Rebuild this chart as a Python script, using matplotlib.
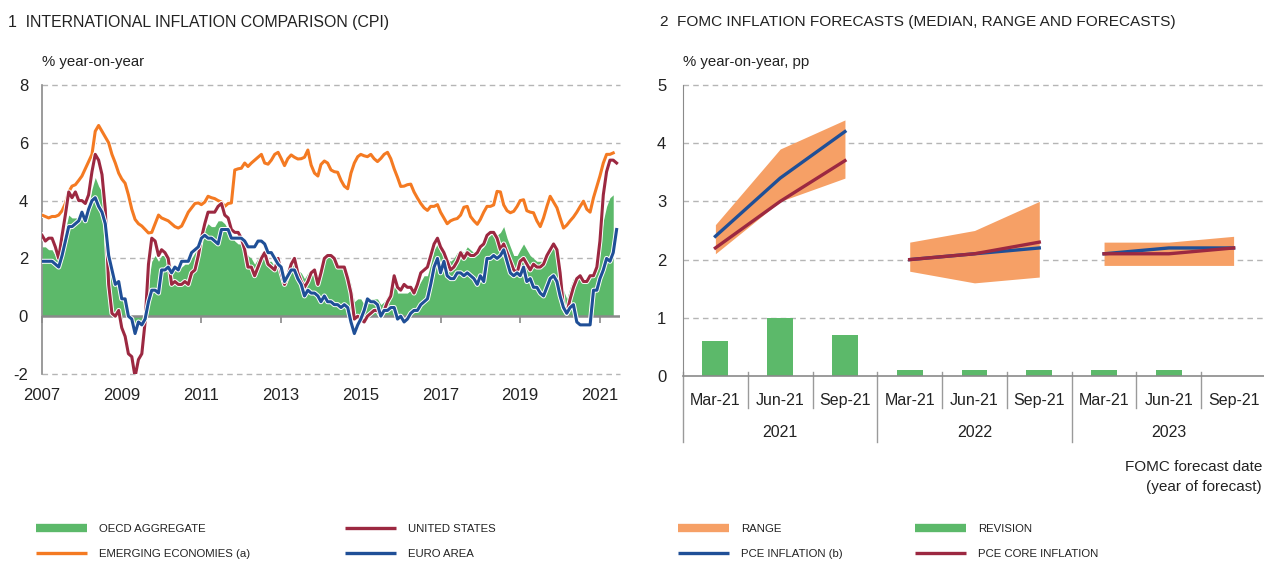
import numpy as np
import pandas as pd
import matplotlib
matplotlib.use("Agg")
import matplotlib.pyplot as plt
import matplotlib.patheffects as pe
import matplotlib.dates as mdates
from matplotlib.lines import Line2D

plt.rcParams['font.family'] = ['Liberation Sans', 'DejaVu Sans']

# ---- chart 1: CPI, % year-on-year, monthly from Mar 2007 ----
oecd = [2.4, 2.4, 2.3, 2.3, 2.1, 1.9, 2.3, 3.0, 3.5, 3.4,
        3.4, 3.4, 3.6, 3.5, 3.8, 4.4, 4.8, 4.5, 4.3, 3.7, 2.3, 1.5,
        1.2, 1.2, 0.6, 0.5, 0.1, -0.1, -0.5, -0.3, -0.3, 0.2, 1.2, 1.9,
        2.1, 1.9, 2.1, 2.1, 2.0, 1.7, 1.7, 1.6, 1.7, 1.8, 1.8, 2.0,
        2.2, 2.4, 2.7, 3.0, 3.2, 3.1, 3.1, 3.3, 3.3, 3.2, 3.0, 2.8,
        2.6, 2.5, 2.5, 2.4, 2.1, 2.0, 1.8, 2.0, 2.2, 2.2, 1.9, 1.9,
        1.7, 1.8, 1.6, 1.3, 1.5, 1.8, 1.9, 1.6, 1.5, 1.3, 1.5, 1.6,
        1.5, 1.4, 1.6, 2.0, 2.1, 2.1, 1.9, 1.8, 1.7, 1.6, 1.5, 1.1,
        0.5, 0.6, 0.6, 0.4, 0.6, 0.6, 0.6, 0.6, 0.4, 0.5, 0.7, 0.9,
        1.2, 0.8, 0.8, 0.8, 0.8, 0.9, 1.0, 1.0, 1.2, 1.4, 1.4, 1.8,
        2.3, 2.5, 2.2, 2.3, 2.0, 1.9, 2.0, 2.2, 2.3, 2.2, 2.4, 2.3,
        2.2, 2.2, 2.3, 2.4, 2.7, 2.8, 2.9, 2.8, 2.9, 3.1, 2.7, 2.4,
        2.1, 2.1, 2.3, 2.5, 2.3, 2.1, 2.0, 1.9, 1.9, 1.9, 2.1, 2.3,
        2.5, 2.2, 1.7, 0.9, 0.6, 1.0, 1.3, 1.3, 1.4, 1.2, 1.2, 1.3,
        1.6, 1.8, 2.5, 3.3, 3.8, 4.1, 4.2]

emerging = [3.5, 3.45, 3.4, 3.45, 3.45, 3.5, 3.65, 3.9, 4.3, 4.5,
            4.55, 4.7, 4.85, 5.1, 5.35, 5.6, 6.4, 6.6, 6.4, 6.2, 6.0, 5.6,
            5.3, 4.95, 4.75, 4.6, 4.2, 3.7, 3.35, 3.2, 3.12, 3.0, 2.88, 2.9,
            3.2, 3.5, 3.4, 3.35, 3.3, 3.2, 3.1, 3.05, 3.12, 3.35, 3.6, 3.75,
            3.9, 3.92, 3.86, 3.95, 4.15, 4.1, 4.07, 4.0, 3.95, 3.8, 3.9, 3.92,
            5.06, 5.1, 5.12, 5.3, 5.18, 5.3, 5.4, 5.5, 5.6, 5.3, 5.26, 5.4,
            5.6, 5.67, 5.46, 5.21, 5.45, 5.58, 5.5, 5.44, 5.45, 5.5, 5.75, 5.23,
            4.95, 4.85, 5.25, 5.37, 5.3, 5.06, 5.0, 4.98, 4.7, 4.5, 4.41, 4.95,
            5.3, 5.52, 5.6, 5.55, 5.52, 5.6, 5.45, 5.35, 5.46, 5.6, 5.67, 5.45,
            5.1, 4.8, 4.49, 4.5, 4.55, 4.57, 4.3, 4.09, 3.9, 3.75, 3.66, 3.8,
            3.8, 3.86, 3.6, 3.4, 3.2, 3.3, 3.35, 3.38, 3.5, 3.77, 3.8, 3.45,
            3.3, 3.18, 3.35, 3.6, 3.8, 3.8, 3.85, 4.32, 4.3, 3.85, 3.65, 3.58,
            3.63, 3.8, 4.0, 4.03, 3.65, 3.6, 3.58, 3.3, 3.1, 3.4, 3.8, 4.15,
            3.95, 3.75, 3.4, 3.05, 3.15, 3.3, 3.43, 3.6, 3.8, 3.98, 3.7, 3.6,
            4.1, 4.5, 4.85, 5.3, 5.6, 5.6, 5.65]

usa = [2.8, 2.6, 2.7, 2.7, 2.4, 2.0, 2.8, 3.5, 4.3, 4.1,
       4.3, 4.0, 4.0, 3.9, 4.2, 5.0, 5.6, 5.4, 4.9, 3.7, 1.1, 0.1,
       0.0, 0.2, -0.4, -0.7, -1.3, -1.4, -2.1, -1.5, -1.3, -0.2, 1.8, 2.7,
       2.6, 2.1, 2.3, 2.2, 2.0, 1.1, 1.2, 1.1, 1.1, 1.2, 1.1, 1.5,
       1.6, 2.1, 2.7, 3.2, 3.6, 3.6, 3.6, 3.8, 3.9, 3.5, 3.4, 3.0,
       2.9, 2.9, 2.7, 2.3, 1.7, 1.7, 1.4, 1.7, 2.0, 2.2, 1.8, 1.7,
       1.6, 2.0, 1.5, 1.1, 1.4, 1.8, 2.0, 1.5, 1.2, 1.0, 1.2, 1.5,
       1.6, 1.1, 1.5, 2.0, 2.1, 2.1, 2.0, 1.7, 1.7, 1.7, 1.3, 0.8,
       -0.1, 0.0, -0.1, -0.2, 0.0, 0.1, 0.2, 0.2, 0.0, 0.2, 0.5, 0.7,
       1.4, 1.0, 0.9, 1.1, 1.0, 1.0, 0.8, 1.1, 1.5, 1.6, 1.7, 2.1,
       2.5, 2.7, 2.4, 2.2, 1.9, 1.6, 1.7, 1.9, 2.2, 2.0, 2.2, 2.1,
       2.1, 2.2, 2.4, 2.5, 2.8, 2.9, 2.9, 2.7, 2.3, 2.5, 2.2, 1.9,
       1.6, 1.5, 1.9, 2.0, 1.8, 1.6, 1.8, 1.7, 1.7, 1.8, 2.1, 2.3,
       2.5, 2.3, 1.5, 0.3, 0.1, 0.6, 1.0, 1.3, 1.4, 1.2, 1.2, 1.4,
       1.4, 1.7, 2.6, 4.2, 5.0, 5.4, 5.4, 5.3]

euro = [1.9, 1.9, 1.9, 1.9, 1.8, 1.7, 2.1, 2.6, 3.1, 3.1,
        3.2, 3.3, 3.6, 3.3, 3.7, 4.0, 4.1, 3.8, 3.6, 3.2, 2.1, 1.6,
        1.1, 1.2, 0.6, 0.6, 0.0, -0.1, -0.6, -0.2, -0.3, -0.1, 0.5, 0.9,
        0.9, 0.8, 1.6, 1.6, 1.7, 1.5, 1.7, 1.6, 1.9, 1.9, 1.9, 2.2,
        2.3, 2.4, 2.7, 2.8, 2.7, 2.7, 2.6, 2.5, 3.0, 3.0, 3.0, 2.7,
        2.7, 2.7, 2.7, 2.6, 2.4, 2.4, 2.4, 2.6, 2.6, 2.5, 2.2, 2.2,
        2.0, 1.8, 1.7, 1.2, 1.4, 1.6, 1.6, 1.3, 1.1, 0.7, 0.9, 0.8,
        0.8, 0.7, 0.5, 0.7, 0.5, 0.5, 0.4, 0.4, 0.3, 0.4, 0.3, -0.2,
        -0.6, -0.3, -0.1, 0.2, 0.6, 0.5, 0.5, 0.4, 0.0, 0.2, 0.2, 0.3,
        0.3, -0.1, 0.0, -0.2, -0.1, 0.1, 0.2, 0.2, 0.4, 0.5, 0.6, 1.1,
        1.7, 2.0, 1.5, 1.9, 1.4, 1.3, 1.3, 1.5, 1.5, 1.4, 1.5, 1.4,
        1.3, 1.1, 1.4, 1.2, 2.0, 2.0, 2.1, 2.0, 2.1, 2.3, 1.9, 1.5,
        1.4, 1.5, 1.4, 1.7, 1.2, 1.3, 1.0, 1.0, 0.8, 0.7, 1.0, 1.3,
        1.4, 1.2, 0.7, 0.3, 0.1, 0.3, 0.4, -0.2, -0.3, -0.3, -0.3, -0.3,
        0.9, 0.9, 1.3, 1.6, 2.0, 1.9, 2.2, 3.0]

start = "2007-03-01"
year_labels = ["2007", "2009", "2011", "2013", "2015", "2017", "2019", "2021"]

# ---- chart 2: FOMC forecasts ----
fomc_dates = ["Mar-21", "Jun-21", "Sep-21"] * 3
fomc_years = ["2021", "2022", "2023"]
range_low = [2.1, 3.0, 3.4, 1.8, 1.6, 1.7, 1.9, 1.9, 1.9]
range_high = [2.6, 3.9, 4.4, 2.3, 2.5, 3.0, 2.3, 2.3, 2.4]
pce = [2.4, 3.4, 4.2, 2.0, 2.1, 2.2, 2.1, 2.2, 2.2]
pce_core = [2.2, 3.0, 3.7, 2.0, 2.1, 2.3, 2.1, 2.1, 2.2]
revision = [0.6, 1.0, 0.7, 0.1, 0.1, 0.1, 0.1, 0.1, 0.0]

GREEN = "#5cb96a"
ORANGE = "#f47a22"
RED = "#9c2841"
BLUE = "#1f4f97"
RANGE_C = "#f6a066"
GRAY = "#8a8a8a"
GRID = "#b5b5b5"
TXT = "#222222"

W, H = 1264, 561
fig = plt.figure(figsize=(W / 100, H / 100), dpi=100)


def fx(px):
    return px / W


def fy(py):
    return 1 - py / H


halo = [pe.Stroke(linewidth=3.6, foreground="white"), pe.Normal()]

# ---------------- left chart ----------------
ax1 = fig.add_axes([fx(42), fy(374), fx(620 - 42), (374 - 85) / H])
d_long = pd.date_range(start, periods=len(usa), freq="MS")
d_short = pd.date_range(start, periods=len(oecd), freq="MS")

ax1.fill_between(d_short, 0, oecd, color=GREEN, lw=0, zorder=2)
ax1.axhline(0, color=GRAY, lw=1.8, zorder=2.5)
ax1.plot(d_short, emerging, color=ORANGE, lw=2.2, zorder=3, path_effects=halo)
ax1.plot(d_long, usa, color=RED, lw=2.2, zorder=4, path_effects=halo)
ax1.plot(d_long, euro, color=BLUE, lw=2.2, zorder=5, path_effects=halo)

ax1.set_xlim(d_long[0], pd.Timestamp("2021-09-01"))
ax1.set_ylim(-2, 8)
ax1.set_yticks([-2, 0, 2, 4, 6, 8])
ax1.set_yticklabels(["-2", "0", "2", "4", "6", "8"])
for v in [-2, 2, 4, 6, 8]:
    ax1.axhline(v, color=GRID, lw=1, ls=(0, (4, 3)), zorder=1, clip_on=False)
for s in ["top", "right", "bottom"]:
    ax1.spines[s].set_visible(False)
ax1.spines["left"].set_color(GRAY)
ax1.spines["left"].set_linewidth(1.2)
ax1.tick_params(axis="y", length=0, labelsize=12, colors=TXT, pad=10)

tick_dates = [pd.Timestamp(y + "-03-01") for y in year_labels]
ax1.set_xticks(tick_dates)
ax1.set_xticklabels(year_labels)
ax1.tick_params(axis="x", length=0, labelsize=12, colors=TXT, pad=10)

sec = ax1.secondary_xaxis(0.2)
sec.set_xticks(mdates.date2num(tick_dates))
sec.tick_params(axis="x", length=5, width=1.2, color=GRAY, direction="out",
                labelbottom=False)
sec.spines["bottom"].set_visible(False)

fig.text(fx(8), fy(22), "1  INTERNATIONAL INFLATION COMPARISON (CPI)",
         fontsize=11.4, color=TXT, va="center")
fig.text(fx(42), fy(62), "% year-on-year", fontsize=10.8, color=TXT, va="center")

# ---------------- right chart ----------------
ax2 = fig.add_axes([fx(683), fy(376), fx(1266 - 683), (376 - 85) / H])
x = np.arange(len(fomc_dates))
ax2.bar(x, revision, width=0.4, color=GREEN, zorder=2)
for g in range(len(fomc_years)):
    sl = slice(3 * g, 3 * g + 3)
    ax2.fill_between(x[sl], range_low[sl], range_high[sl], color=RANGE_C, lw=0, zorder=2)
    ax2.plot(x[sl], pce[sl], color=BLUE, lw=2.4, zorder=3)
    ax2.plot(x[sl], pce_core[sl], color=RED, lw=2.4, zorder=4)

ax2.set_xlim(-0.5, len(fomc_dates) - 0.5)
ax2.set_ylim(0, 5)
ax2.set_yticks(range(0, 6))
for v in range(1, 6):
    ax2.axhline(v, color=GRID, lw=1, ls=(0, (4, 3)), zorder=1, clip_on=False)
for s in ["top", "right"]:
    ax2.spines[s].set_visible(False)
ax2.spines["left"].set_color(GRAY)
ax2.spines["bottom"].set_color(GRAY)
ax2.spines["bottom"].set_linewidth(1.2)
ax2.tick_params(axis="y", length=0, labelsize=12, colors=TXT, pad=12)
ax2.set_xticks(x)
ax2.set_xticklabels(fomc_dates)
ax2.tick_params(axis="x", length=0, labelsize=11.5, colors=TXT, pad=12)

tr = ax2.get_xaxis_transform()
for i in range(len(fomc_dates) + 1):
    low = -0.227 if i % 3 == 0 else -0.11
    ax2.plot([i - 0.5, i - 0.5], [0.015, low], transform=tr, clip_on=False,
             color="#9a9a9a", lw=1)
for g, yl in enumerate(fomc_years):
    ax2.text(3 * g + 1, -0.193, yl, transform=tr, ha="center", va="center",
             fontsize=11.5, color=TXT)

fig.text(fx(660), fy(22), "2  FOMC INFLATION FORECASTS (MEDIAN, RANGE AND FORECASTS)",
         fontsize=11.1, color=TXT, va="center")
fig.text(fx(683), fy(62), "% year-on-year, pp", fontsize=10.8, color=TXT, va="center")
fig.text(fx(1262), fy(467), "FOMC forecast date", fontsize=11, color=TXT,
         ha="right", va="center")
fig.text(fx(1262), fy(487), "(year of forecast)", fontsize=11, color=TXT,
         ha="right", va="center")

# ---------------- legends ----------------
def legend_col(px, entries):
    handles = [Line2D([], [], color=c, lw=w, solid_capstyle="butt") for _, c, w in entries]
    labels = [t for t, _, _ in entries]
    fig.legend(handles, labels, loc="upper left", bbox_to_anchor=(fx(px), fy(524)),
               frameon=False, fontsize=8.2, handlelength=4.5, handletextpad=1.0,
               labelspacing=1.35, borderpad=0, borderaxespad=0, labelcolor=TXT)


legend_col(36, [("OECD AGGREGATE", GREEN, 6), ("EMERGING ECONOMIES (a)", ORANGE, 2.4)])
legend_col(345, [("UNITED STATES", RED, 2.4), ("EURO AREA", BLUE, 2.4)])
legend_col(678, [("RANGE", RANGE_C, 6), ("PCE INFLATION (b)", BLUE, 2.4)])
legend_col(915, [("REVISION", GREEN, 6), ("PCE CORE INFLATION", RED, 2.4)])

fig.savefig("out.png", dpi=100)
